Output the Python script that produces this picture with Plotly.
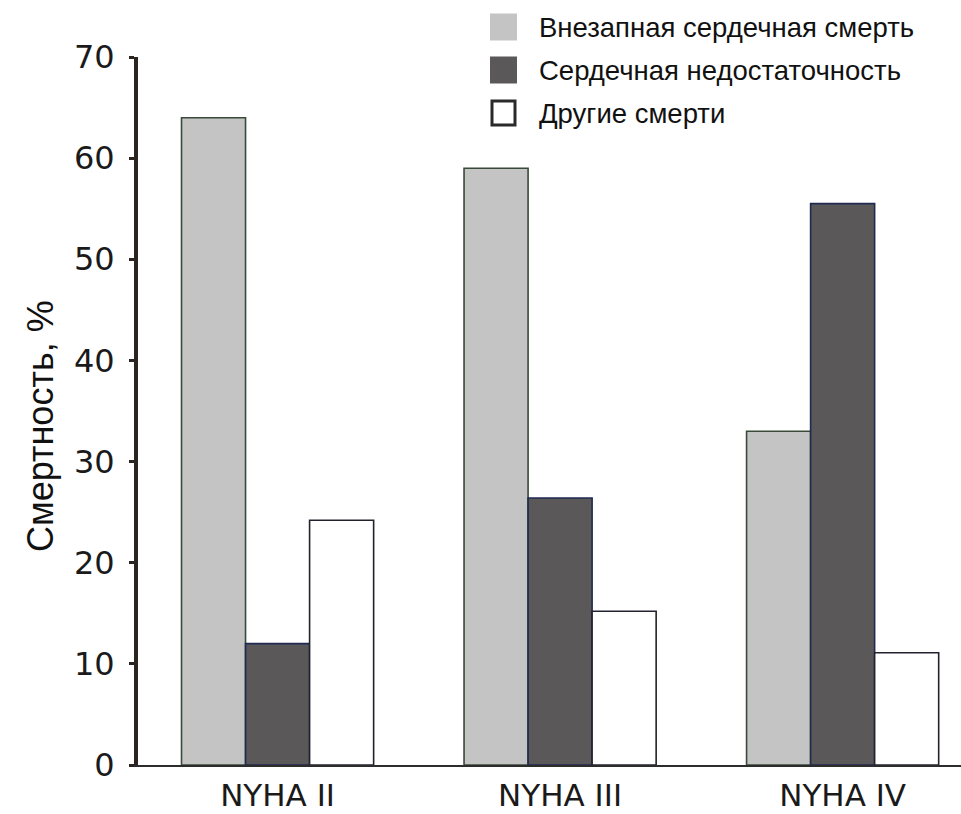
import plotly.graph_objects as go

# Mortality structure by NYHA functional class
categories = ["NYHA II", "NYHA III", "NYHA IV"]
series_names = ["Внезапная сердечная смерть", "Сердечная недостаточность", "Другие смерти"]
sudden_death = [64, 59, 33]
heart_failure = [12, 26.4, 55.5]
other_deaths = [24.2, 15.2, 11.1]
y_ticks = [0, 10, 20, 30, 40, 50, 60, 70]
y_title = "Смертность, %"

series_values = [sudden_death, heart_failure, other_deaths]
fill_colors = ["#c4c4c4", "#5b585a", "#ffffff"]
edge_colors = ["#3a4a3a", "#1f2a50", "#22222e"]

W, H = 961, 814
L, R, T, B = 138, 0, 57, 49

fig = go.Figure()
for name, vals, fc, ec in zip(series_names, series_values, fill_colors, edge_colors):
    fig.add_trace(go.Bar(
        x=categories, y=vals, name=name,
        marker=dict(color=fc, line=dict(color=ec, width=1.6)),
        showlegend=False,
    ))

fig.update_layout(
    width=W, height=H,
    margin=dict(l=L, r=R, t=T, b=B),
    paper_bgcolor="white", plot_bgcolor="white",
    barmode="group", bargap=0.32, bargroupgap=0,
    xaxis=dict(
        range=[-0.494, 2.419], showgrid=False, zeroline=False, automargin=False,
        showline=True, linecolor="#2c2c2c", linewidth=2,
        ticks="", tickfont=dict(family="DejaVu Sans", size=31, color="#1a1a1a"),
        ticklabelstandoff=2,
    ),
    yaxis=dict(
        range=[0, 70], tickvals=y_ticks, showgrid=False, zeroline=False, automargin=False,
        showline=True, linecolor="#2b2420", linewidth=4,
        ticks="outside", ticklen=5, tickwidth=3, tickcolor="#2b2420",
        tickfont=dict(family="DejaVu Sans", size=32, color="#1a1a1a"),
        ticklabelstandoff=8,
    ),
)

def px_x(px):
    return (px - L) / (W - L - R)

def px_y(py):
    return 1 - (py - T) / (H - T - B)

# Y-axis caption
fig.add_annotation(
    text=y_title, xref="paper", yref="paper",
    x=px_x(40), y=px_y(426),
    textangle=-90, showarrow=False, xanchor="center", yanchor="middle",
    font=dict(family="Liberation Sans", size=36, color="#111"),
)

# Legend: swatches and labels, top right
row_y = [27, 70, 113]
sw_x0, sw_x1 = 490, 517

for i, (name, fc) in enumerate(zip(series_names, fill_colors)):
    cy = row_y[i]
    if i == 2:
        fig.add_shape(type="rect", xref="paper", yref="paper",
                      x0=px_x(sw_x0 + 2), x1=px_x(sw_x1 - 2),
                      y0=px_y(cy + 12), y1=px_y(cy - 12),
                      fillcolor="white", line=dict(color="#2a2a2a", width=3))
    else:
        fig.add_shape(type="rect", xref="paper", yref="paper",
                      x0=px_x(sw_x0), x1=px_x(sw_x1),
                      y0=px_y(cy + 13.5), y1=px_y(cy - 13.5),
                      fillcolor=fc, line=dict(width=0))
    fig.add_annotation(
        text=name, xref="paper", yref="paper",
        x=px_x(537), y=px_y(cy), xanchor="left", yanchor="middle",
        showarrow=False,
        font=dict(family="Liberation Sans", size=27.5, color="#111"),
    )

fig.write_html("out.html")
